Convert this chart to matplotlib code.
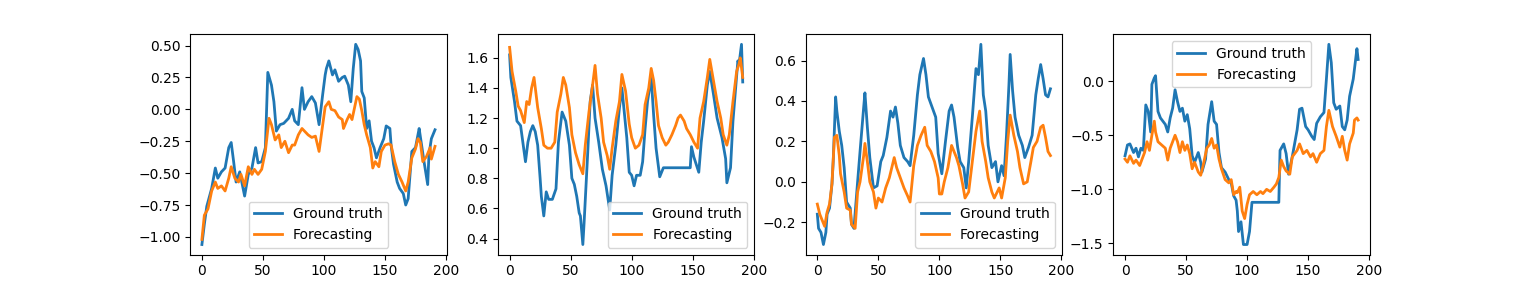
#!/usr/bin/env python3
"""
Ground truth vs. forecasting for four series, drawn side by side.

Usage:
    python plot.py
"""

import matplotlib
matplotlib.use('Agg')
import matplotlib.pyplot as plt
from matplotlib.ticker import MultipleLocator


# (step, value) pairs
p1_truth = [(0, -1.06), (2, -0.9), (4, -0.76), (8, -0.62), (11, -0.46), (13, -0.54), (16, -0.49),
            (19, -0.46), (22, -0.30), (24, -0.26), (26, -0.41), (28, -0.57), (31, -0.49), (35, -0.68),
            (38, -0.51), (41, -0.46), (44, -0.30), (46, -0.42), (49, -0.41), (52, -0.30), (54, 0.29),
            (57, 0.19), (59, 0.06), (61, -0.17), (64, -0.12), (67, -0.11), (71, -0.07), (74, 0.0),
            (76, -0.09), (79, -0.12), (82, 0.17), (84, 0.0), (87, 0.06), (90, 0.10), (93, 0.05),
            (96, -0.12), (99, 0.12), (101, 0.27), (102, 0.32), (104, 0.38), (107, 0.27), (109, 0.31),
            (112, 0.22), (115, 0.25), (117, 0.26), (120, 0.19), (122, 0.06), (124, 0.32), (126, 0.51),
            (128, 0.47), (130, 0.38), (131, 0.14), (133, 0.09), (135, -0.15), (137, -0.09), (139, -0.25),
            (141, -0.30), (143, -0.38), (146, -0.30), (149, -0.23), (151, -0.13), (154, -0.15),
            (155, -0.28), (157, -0.43), (160, -0.57), (162, -0.62), (165, -0.66), (167, -0.75),
            (169, -0.70), (172, -0.33), (175, -0.30), (177, -0.20), (178, -0.15), (180, -0.28),
            (182, -0.41), (185, -0.59), (186, -0.36), (188, -0.23), (191, -0.16)]
p1_fore = [(0, -1.02), (2, -0.83), (5, -0.78), (8, -0.64), (11, -0.57), (13, -0.62), (16, -0.60),
           (19, -0.64), (22, -0.54), (24, -0.45), (27, -0.54), (30, -0.57), (32, -0.51), (35, -0.60),
           (38, -0.45), (41, -0.51), (43, -0.47), (46, -0.51), (49, -0.47), (52, -0.33), (55, -0.07),
           (57, -0.12), (60, -0.24), (63, -0.20), (65, -0.30), (68, -0.25), (71, -0.34), (74, -0.28),
           (76, -0.28), (79, -0.20), (82, -0.15), (84, -0.17), (87, -0.20), (90, -0.22), (93, -0.21),
           (96, -0.33), (99, -0.12), (101, 0.02), (104, 0.06), (106, 0.0), (109, -0.01), (112, -0.06),
           (115, -0.08), (116, -0.15), (119, -0.08), (121, -0.04), (123, -0.08), (125, 0.01),
           (127, 0.10), (129, 0.08), (131, -0.01), (133, -0.12), (135, -0.20), (138, -0.30),
           (140, -0.46), (142, -0.41), (145, -0.45), (147, -0.33), (150, -0.28), (153, -0.27),
           (155, -0.28), (158, -0.41), (161, -0.51), (164, -0.57), (167, -0.64), (169, -0.57),
           (172, -0.38), (175, -0.31), (177, -0.23), (179, -0.26), (181, -0.41), (184, -0.37),
           (187, -0.30), (188, -0.39), (191, -0.29)]

p2_truth = [(0, 1.62), (1, 1.47), (4, 1.31), (6, 1.18), (9, 1.15), (13, 0.91), (15, 1.04), (17, 1.11),
            (19, 1.15), (21, 1.11), (23, 1.02), (25, 0.80), (26, 0.68), (28, 0.55), (30, 0.71),
            (32, 0.66), (35, 0.66), (38, 0.73), (40, 1.04), (43, 1.24), (46, 1.18), (49, 1.02),
            (51, 0.80), (53, 0.76), (55, 0.68), (57, 0.57), (58, 0.55), (60, 0.36), (61, 0.50),
            (64, 0.97), (66, 1.31), (68, 1.42), (70, 1.20), (73, 1.04), (76, 0.86), (79, 0.75),
            (82, 0.59), (84, 0.82), (87, 1.02), (90, 1.27), (92, 1.40), (96, 1.07), (98, 0.84),
            (100, 0.82), (102, 0.75), (104, 0.82), (107, 0.82), (109, 0.91), (111, 1.13), (113, 1.31),
            (116, 1.47), (118, 1.22), (120, 1.00), (123, 0.81), (126, 0.87), (148, 0.87), (149, 1.01),
            (151, 0.94), (153, 0.89), (155, 0.84), (157, 1.04), (159, 1.18), (162, 1.42), (164, 1.51),
            (167, 1.36), (170, 1.20), (174, 1.07), (177, 0.93), (178, 0.77), (181, 0.87), (183, 1.18),
            (187, 1.58), (188, 1.56), (190, 1.69), (191, 1.44)]
p2_fore = [(0, 1.67), (2, 1.51), (5, 1.38), (7, 1.28), (9, 1.25), (12, 1.17), (14, 1.31), (16, 1.29),
           (18, 1.40), (20, 1.47), (23, 1.27), (26, 1.13), (28, 1.02), (31, 1.00), (34, 1.00),
           (37, 1.04), (39, 1.24), (42, 1.36), (44, 1.47), (46, 1.42), (49, 1.27), (51, 1.09),
           (54, 0.97), (57, 0.89), (60, 0.83), (62, 1.02), (65, 1.24), (68, 1.42), (70, 1.55),
           (72, 1.36), (75, 1.20), (77, 1.04), (80, 0.95), (82, 0.86), (84, 1.00), (87, 1.18),
           (90, 1.31), (92, 1.49), (95, 1.38), (98, 1.16), (100, 1.07), (103, 1.00), (106, 1.02),
           (109, 1.09), (111, 1.29), (114, 1.40), (116, 1.53), (118, 1.45), (120, 1.31), (122, 1.15),
           (125, 1.07), (128, 1.02), (130, 1.04), (133, 1.09), (136, 1.15), (138, 1.20), (140, 1.22),
           (143, 1.18), (145, 1.13), (148, 1.09), (151, 1.04), (154, 1.00), (156, 1.20), (159, 1.31),
           (162, 1.47), (164, 1.59), (167, 1.45), (170, 1.31), (173, 1.20), (175, 1.09), (178, 1.02),
           (180, 1.09), (183, 1.31), (186, 1.51), (188, 1.56), (189, 1.60), (191, 1.47)]

p3_truth = [(0, -0.16), (1, -0.23), (3, -0.25), (5, -0.31), (7, -0.25), (8, -0.16), (10, -0.13),
            (12, -0.01), (13, 0.10), (15, 0.42), (16, 0.35), (18, 0.25), (20, 0.18), (22, 0.07),
            (24, -0.10), (27, -0.13), (28, -0.21), (30, -0.23), (33, 0.0), (35, 0.15), (38, 0.37),
            (39, 0.44), (41, 0.27), (43, 0.12), (46, -0.03), (49, -0.02), (52, 0.10), (54, 0.13),
            (57, 0.22), (60, 0.35), (62, 0.32), (64, 0.37), (66, 0.29), (68, 0.18), (71, 0.12),
            (74, 0.10), (76, 0.08), (79, 0.23), (82, 0.43), (84, 0.53), (87, 0.61), (89, 0.53),
            (91, 0.42), (94, 0.37), (97, 0.32), (99, 0.14), (102, 0.04), (105, 0.20), (108, 0.35),
            (110, 0.38), (112, 0.32), (115, 0.17), (117, 0.10), (120, 0.07), (122, -0.03), (124, 0.10),
            (127, 0.32), (130, 0.56), (132, 0.53), (134, 0.68), (136, 0.43), (138, 0.35), (140, 0.18),
            (143, 0.07), (146, 0.10), (148, 0.0), (151, 0.08), (153, 0.03), (155, 0.23), (157, 0.48),
            (158, 0.63), (160, 0.45), (162, 0.32), (165, 0.23), (168, 0.18), (170, 0.12), (173, 0.17),
            (176, 0.23), (179, 0.43), (181, 0.51), (183, 0.58), (185, 0.51), (187, 0.43), (189, 0.42),
            (191, 0.46)]
p3_fore = [(0, -0.11), (2, -0.16), (4, -0.19), (6, -0.22), (8, -0.15), (10, -0.11), (12, -0.01),
           (14, 0.22), (16, 0.23), (18, 0.13), (19, 0.04), (22, -0.05), (24, -0.13), (27, -0.14),
           (28, -0.21), (31, -0.23), (33, -0.05), (35, 0.0), (38, 0.13), (39, 0.19), (41, 0.10),
           (43, 0.0), (46, -0.05), (48, -0.13), (50, -0.08), (53, -0.10), (56, -0.03), (59, 0.02),
           (61, 0.07), (63, 0.12), (65, 0.07), (68, 0.02), (71, -0.03), (74, -0.07), (76, -0.10),
           (79, 0.08), (82, 0.18), (85, 0.23), (88, 0.27), (90, 0.18), (93, 0.15), (96, 0.10),
           (99, 0.02), (100, -0.06), (102, -0.06), (104, 0.0), (107, 0.07), (110, 0.18), (112, 0.15),
           (114, 0.12), (116, 0.08), (119, -0.01), (121, -0.08), (124, -0.05), (127, 0.10), (130, 0.25),
           (133, 0.35), (135, 0.20), (138, 0.10), (140, 0.02), (143, -0.05), (145, -0.08), (149, -0.03),
           (151, -0.08), (154, 0.02), (156, 0.20), (158, 0.33), (161, 0.23), (164, 0.15), (166, 0.07),
           (169, -0.01), (172, 0.0), (175, 0.10), (177, 0.17), (180, 0.20), (183, 0.27), (185, 0.28),
           (187, 0.22), (189, 0.15), (191, 0.13)]

p4_truth = [(0, -0.69), (2, -0.59), (4, -0.58), (7, -0.66), (9, -0.62), (11, -0.70), (13, -0.62),
            (15, -0.64), (17, -0.22), (19, -0.28), (21, -0.47), (22, -0.03), (24, 0.03), (25, 0.05),
            (27, -0.28), (29, -0.34), (31, -0.37), (33, -0.40), (35, -0.47), (37, -0.34), (39, -0.25),
            (41, -0.08), (43, -0.19), (45, -0.28), (47, -0.25), (49, -0.37), (51, -0.31), (53, -0.44),
            (55, -0.69), (57, -0.75), (60, -0.66), (62, -0.75), (63, -0.84), (66, -0.72), (68, -0.40),
            (71, -0.19), (73, -0.37), (75, -0.40), (77, -0.66), (79, -0.80), (82, -0.84), (85, -0.91),
            (87, -0.94), (89, -1.06), (91, -1.10), (92, -1.20), (93, -1.39), (95, -1.30), (97, -1.51),
            (100, -1.51), (102, -1.39), (104, -1.12), (126, -1.12), (127, -0.64), (130, -0.58),
            (132, -0.67), (134, -0.86), (137, -0.70), (141, -0.45), (143, -0.26), (145, -0.25),
            (148, -0.42), (150, -0.45), (153, -0.51), (155, -0.54), (157, -0.39), (160, -0.33),
            (163, -0.29), (165, 0.02), (167, 0.34), (169, 0.17), (171, -0.20), (173, -0.26),
            (176, -0.23), (178, -0.42), (180, -0.45), (182, -0.36), (184, -0.14), (187, 0.02),
            (190, 0.30), (191, 0.20)]
p4_fore = [(0, -0.72), (2, -0.75), (4, -0.69), (7, -0.76), (9, -0.73), (12, -0.78), (14, -0.72),
           (16, -0.66), (18, -0.56), (20, -0.64), (22, -0.50), (24, -0.37), (25, -0.47), (27, -0.56),
           (30, -0.59), (33, -0.62), (35, -0.73), (37, -0.62), (39, -0.56), (41, -0.50), (43, -0.56),
           (45, -0.66), (47, -0.56), (49, -0.64), (51, -0.59), (53, -0.67), (55, -0.81), (57, -0.75),
           (60, -0.84), (62, -0.87), (64, -0.78), (67, -0.62), (69, -0.59), (71, -0.53), (73, -0.62),
           (75, -0.59), (77, -0.72), (79, -0.81), (82, -0.91), (85, -0.94), (87, -0.91), (89, -1.05),
           (91, -1.02), (92, -1.03), (94, -0.98), (96, -1.20), (98, -1.27), (100, -1.14), (102, -1.05),
           (105, -1.02), (108, -1.05), (111, -1.02), (113, -1.04), (116, -1.00), (119, -1.02),
           (122, -0.98), (124, -0.95), (126, -0.89), (128, -0.73), (130, -0.79), (132, -0.83),
           (135, -0.86), (137, -0.70), (141, -0.64), (143, -0.58), (146, -0.67), (149, -0.64),
           (152, -0.70), (154, -0.67), (157, -0.75), (160, -0.67), (163, -0.64), (165, -0.42),
           (167, -0.27), (170, -0.42), (173, -0.51), (176, -0.61), (178, -0.51), (180, -0.64),
           (182, -0.73), (184, -0.58), (187, -0.48), (188, -0.36), (190, -0.34), (191, -0.36)]

legend_locs = ['lower center', 'lower right', 'lower right', 'upper center']
ytick_steps = [0.25, 0.2, 0.2, 0.5]


def plot_panels(output='out.png'):
    panels = [(p1_truth, p1_fore), (p2_truth, p2_fore),
              (p3_truth, p3_fore), (p4_truth, p4_fore)]

    fig, axes = plt.subplots(1, 4, figsize=(15.22, 2.86), dpi=100)

    for ax, (truth, fore), loc, step in zip(axes, panels, legend_locs, ytick_steps):
        tx, ty = zip(*truth)
        fx, fy = zip(*fore)
        ax.plot(tx, ty, lw=2, label='Ground truth')
        ax.plot(fx, fy, lw=2, label='Forecasting')
        ax.set_xticks([0, 50, 100, 150, 200])
        ax.yaxis.set_major_locator(MultipleLocator(step))
        ax.legend(loc=loc)

    plt.savefig(output, dpi=100)
    print(f"Saved: {output}")


if __name__ == '__main__':
    plot_panels()
